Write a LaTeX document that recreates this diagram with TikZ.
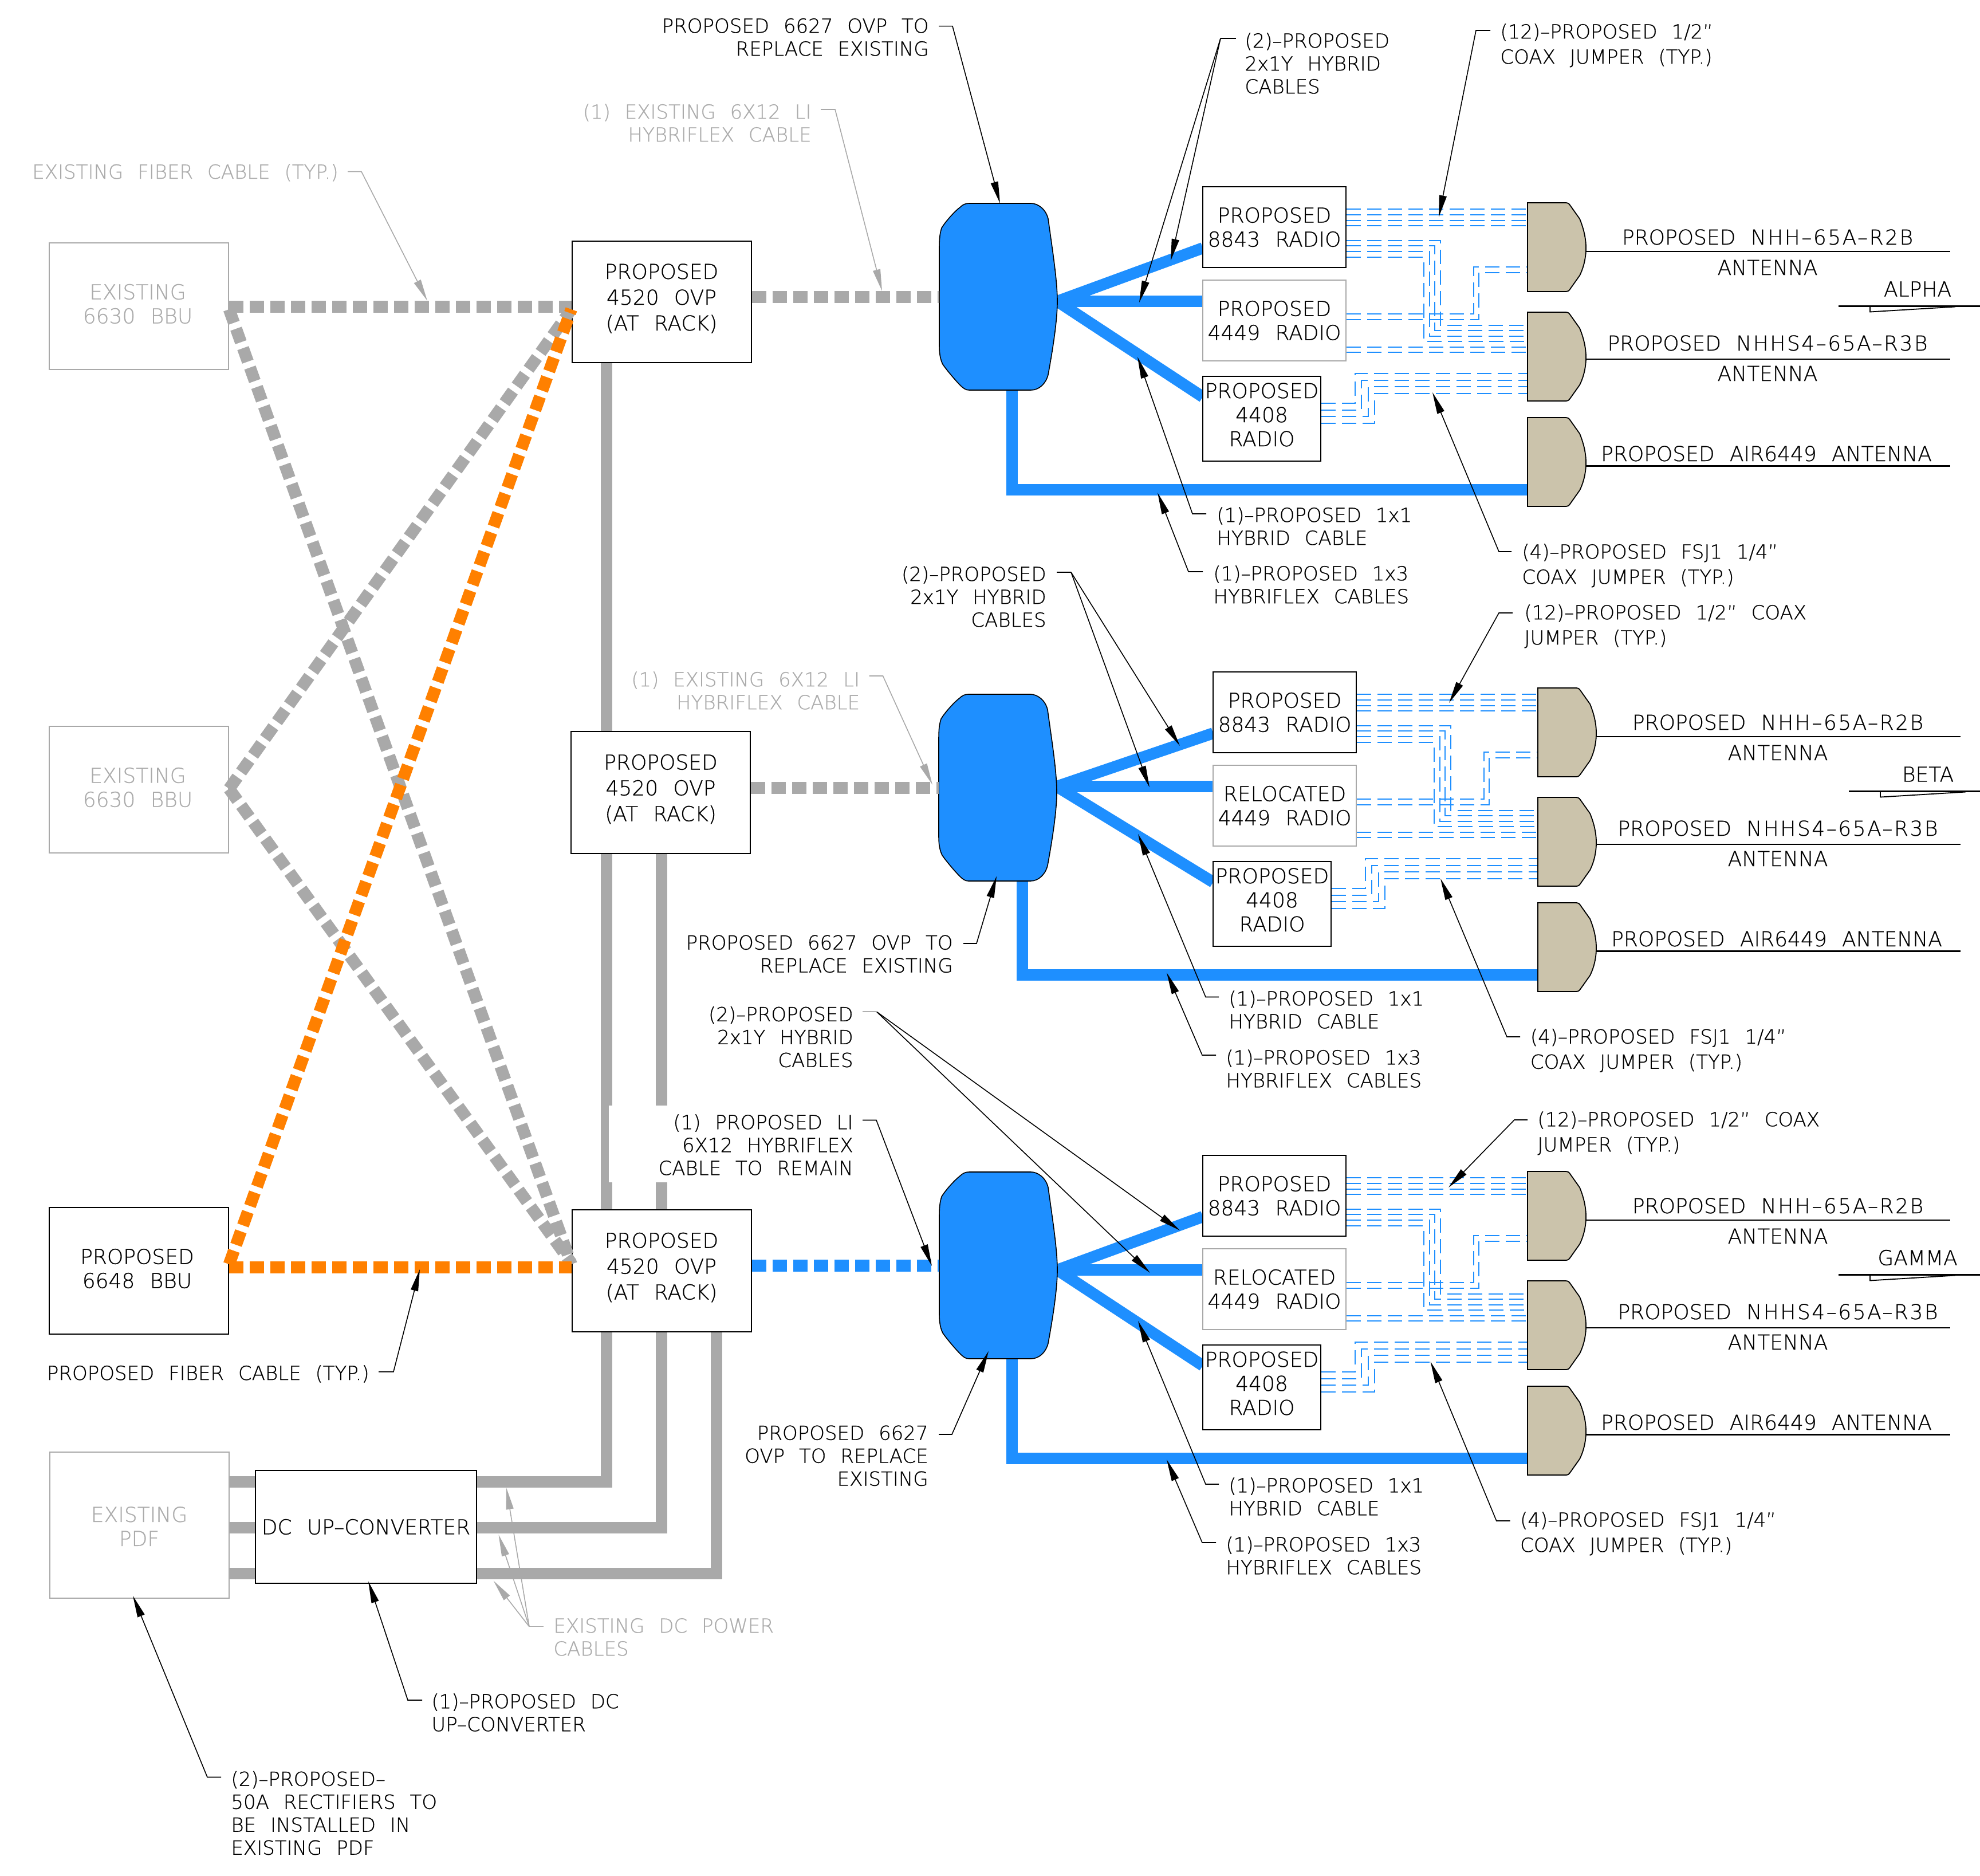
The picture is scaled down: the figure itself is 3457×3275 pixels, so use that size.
\documentclass[tikz,border=0pt]{standalone}
\usepackage{fontspec}
\usetikzlibrary{arrows.meta}
\newfontfamily\cadfont[WordSpace=2.3,FakeBold=0.6]{DejaVu Sans ExtraLight}
\newfontfamily\cadwide[LetterSpace=7,WordSpace=2.3,FakeBold=0.6]{DejaVu Sans ExtraLight}
\definecolor{cableblue}{HTML}{1E8FFF}
\definecolor{cablegrey}{HTML}{A9A9A9}
\definecolor{fibreorange}{HTML}{FF8000}
\definecolor{anttan}{HTML}{CBC3AB}
\definecolor{oldtext}{HTML}{ABABAB}

\tikzset{
  newbox/.style={draw=black,line width=1pt,fill=white,inner sep=0pt,align=center,
    font=\cadfont\fontsize{18}{21}\selectfont},
  oldbox/.style={newbox,draw=cablegrey,text=oldtext},
  reusebox/.style={newbox,draw=cablegrey},
  boxlabel/.style={inner sep=0pt,align=center,font=\cadfont\fontsize{18}{21}\selectfont},
  notetxt/.style={inner sep=0pt,font=\cadfont\fontsize{17}{20}\selectfont,execute at begin node=\rule{0pt}{15pt}},
  oldtxt/.style={notetxt,text=oldtext},
  anttxt/.style={inner sep=0pt,anchor=base,font=\cadfont\fontsize{18}{20}\selectfont},
  leader/.style={line width=0.8pt,-{Triangle[length=19pt,width=6.5pt]}},
  oldleader/.style={leader,cablegrey},
  power/.style={cablegrey,line width=10pt},
  hyb/.style={cableblue,line width=10pt},
  fibre/.style={line width=10.5pt,dash pattern=on 12.5pt off 5.5pt},
  jumper/.style={cableblue,line width=1.1pt,dash pattern=on 12.5pt off 5.5pt},
  antenna/.style={draw=black,line width=0.9pt,fill=anttan},
  stubline/.style={line width=1.1pt},
}

% name, shift, blob shift, 4449 title, tag, antenna text shift
\newcommand{\sectorblock}[6]{%
\begin{scope}[shift={#2}]
  \coordinate (#1ant1) at (2667,433);
  \coordinate (#1ant2) at (2667,622);
  \coordinate (#1ant3) at (2667,855);
  \begin{scope}[shift={#3}]
    \coordinate (#1mouth) at (1846,518);
    \coordinate (#1port) at (1640,518);
  \end{scope}
  % hybrid cables
  \coordinate (#1drop) at (1767,650);
  \coordinate (#1end1) at (2100,433);
  \coordinate (#1end2) at (2100,526);
  \coordinate (#1end3) at (2100,693);
  \draw[hyb] (#1drop) |- (#1ant3);
  \draw[hyb] (#1mouth |- 0,526) -- (#1end1);
  \draw[hyb] (#1mouth |- 0,526) -- (#1end2);
  \draw[hyb] (#1mouth |- 0,526) -- (#1end3);
  \node[newbox,minimum width=125pt,minimum height=70.5pt] (#1rad1) at (2225,396.5) {PROPOSED\\8843 RADIO};
  \node[reusebox,minimum width=125pt,minimum height=70.5pt] (#1rad2) at (2225,559.5) {#4\\4449 RADIO};
  \node[newbox,minimum width=103pt,minimum height=74pt,
    label={[boxlabel,yshift=3.5pt]center:PROPOSED\\4408\\RADIO}] (#1rad3) at (2203,731) {};
  \begin{scope}[shift={#3}]
    \draw[fill=cableblue,line width=0.8pt]
      (1692,355) -- (1800,355) .. controls (1812,355) and (1826,365) .. (1830,382)
      .. controls (1838,440) and (1846,490) .. (1846,526)
      .. controls (1846,560) and (1838,610) .. (1830,654)
      .. controls (1826,670) and (1814,681) .. (1800,681) -- (1692,681)
      .. controls (1686,681) and (1682,678) .. (1676,672)
      .. controls (1668,664) and (1652,645) .. (1646,636)
      .. controls (1642,628) and (1640,618) .. (1640,604) -- (1640,434)
      .. controls (1640,415) and (1641,408) .. (1644,398)
      .. controls (1652,385) and (1668,368) .. (1676,362)
      .. controls (1681,357) and (1686,355) .. (1692,355) -- cycle;
  \end{scope}
  % coax jumpers
  \foreach \ya in {365,375,385,394}
    \draw[jumper] (#1rad1.east |- 0,\ya) -- (#1ant1 |- 0,\ya);
  \foreach \ya/\xb/\yb in {420/2515/568,429/2505/577,439/2496/587,449/2486/596}
    \draw[jumper] (#1rad1.east |- 0,\ya) -| (\xb,\yb) -- (#1ant2 |- 0,\yb);
  \foreach \ya/\xb/\yb in {548/2573/466,558/2582/476}
    \draw[jumper] (#1rad2.east |- 0,\ya) -| (\xb,\yb) -- (#1ant1 |- 0,\yb);
  \foreach \ya in {606,615}
    \draw[jumper] (#1rad2.east |- 0,\ya) -- (#1ant2 |- 0,\ya);
  \foreach \ya/\xb/\yb in {704/2366/652,716/2377/664,727/2389/675,739/2400/687}
    \draw[jumper] (#1rad3.east |- 0,\ya) -| (\xb,\yb) -- (#1ant2 |- 0,\yb);
  % antennas
  \foreach \ty/\ly in {354/439,545/627,729/813.5} {
    \draw[stubline] (2769,\ly) -- (3405,\ly);
    \begin{scope}[shift={(0,\ty)}]
      \draw[antenna] (2667,0) -- (2733,0) .. controls (2737,0) and (2739,1) .. (2741,4)
        -- (2758,28) .. controls (2765,45) and (2769,62) .. (2769,79)
        .. controls (2769,96) and (2765,113) .. (2758,127) -- (2741,151)
        .. controls (2739,154) and (2737,155) .. (2733,155) -- (2667,155) -- cycle;
    \end{scope}
  }
  \node[anttxt] (#1txt1) at (3086+#6,427) {PROPOSED {\cadwide NHH–65A–R2B}};
  \node[anttxt] (#1txt2) at (3086+#6,480) {ANTENNA};
  \node[anttxt] (#1txt3) at (3086+#6,612) {PROPOSED {\cadwide NHHS4–65A–R3B}};
  \node[anttxt] (#1txt4) at (3086+#6,665) {ANTENNA};
  \node[anttxt] (#1txt5) at (3084,805) {PROPOSED AIR6449 ANTENNA};
  \node[anttxt] (#1tag) at (3348,517.6) {#5};
  \draw[stubline] (3210,534.4) -- (3470,534.4);
  \draw[line width=0.9pt] (3265,534.4) -- (3265,544.5) -- (3414,535.5);
\end{scope}}

\begin{document}
\begin{tikzpicture}[x=0.5pt,y=-0.5pt]
\useasboundingbox (0,0) rectangle (3457,3275);

% rack side boxes
\node[oldbox,minimum width=156.5pt,minimum height=110.5pt,
  label={[boxlabel,text=oldtext,xshift=-1pt,yshift=2pt]center:EXISTING\\6630 BBU}] (bbu1) at (242.5,534.5) {};
\node[oldbox,minimum width=156.5pt,minimum height=110.5pt,
  label={[boxlabel,text=oldtext,xshift=-1pt,yshift=2pt]center:EXISTING\\6630 BBU}] (bbu2) at (242.5,1378.5) {};
\node[newbox,minimum width=156.5pt,minimum height=110.5pt,
  label={[boxlabel,xshift=-1.5pt,yshift=2pt]center:PROPOSED\\6648 BBU}] (bbu3) at (242.5,2218.5) {};
\node[newbox,minimum width=156.5pt,minimum height=106pt,
  label={[boxlabel,yshift=3pt]center:PROPOSED\\[1.5pt]4520 OVP\\[1.5pt](AT RACK)}] (ovp1) at (1155,527) {};
\node[newbox,minimum width=156.5pt,minimum height=106.5pt,
  label={[boxlabel,yshift=3pt]center:PROPOSED\\[1.5pt]4520 OVP\\[1.5pt](AT RACK)}] (ovp2) at (1153.5,1383.5) {};
\node[newbox,minimum width=156.5pt,minimum height=106.5pt,
  label={[boxlabel,yshift=3pt]center:PROPOSED\\[1.5pt]4520 OVP\\[1.5pt](AT RACK)}] (ovp3) at (1155,2218.5) {};
\node[oldbox,minimum width=156.5pt,minimum height=127.5pt,
  label={[boxlabel,text=oldtext,yshift=-1pt]center:EXISTING\\PDF}] (pdf) at (243,2662.5) {};
\node[newbox,minimum width=193pt,minimum height=98.5pt] (dc) at (639,2665.5) {DC UP–CONVERTER};

% dc power
\draw[power] (ovp1.south -| 1059,0) -- (ovp2.north -| 1059,0);
\draw[power] (ovp2.south -| 1059,0) -- (ovp3.north -| 1059,0);
\draw[power] (ovp2.south -| 1155,0) -- (ovp3.north -| 1155,0);
\fill[white] (1063,1930) rectangle (1200,2064);
\draw[power] (ovp3.south -| 1059,0) |- (dc.east |- 0,2587);
\draw[power] (ovp3.south -| 1155,0) |- (dc.east |- 0,2667);
\draw[power] (ovp3.south -| 1251,0) |- (dc.east |- 0,2747);
\foreach \yp in {2587,2667,2747}
  \draw[power] (pdf.east |- 0,\yp) -- (dc.west |- 0,\yp);

% sectors
\sectorblock{a}{(0,0)}{(0,0)}{PROPOSED}{ALPHA}{0}
\sectorblock{b}{(18,847)}{(-19,10)}{RELOCATED}{BETA}{0}
\sectorblock{c}{(0,1691)}{(0,0)}{RELOCATED}{GAMMA}{18}

% fiber
\draw[fibre,cablegrey] (bbu1.east |- 0,535) -- (ovp1.west |- 0,535);
\draw[fibre,cablegrey] (bbu1.east |- 0,540) -- (ovp3.west |- 0,2207);
\draw[fibre,cablegrey] (bbu2.east |- 0,1377) -- (ovp1.west |- 0,540);
\draw[fibre,cablegrey] (bbu2.east |- 0,1377) -- (ovp3.west |- 0,2205);
\draw[fibre,fibreorange] (bbu3.east |- 0,2207) -- (ovp1.west |- 0,540);
\draw[fibre,fibreorange] (bbu3.east |- 0,2212.5) -- (ovp3.west |- 0,2212.5);
\draw[fibre,cablegrey] (ovp1.east |- aport) -- (aport);
\draw[fibre,cablegrey] (ovp2.east |- bport) -- (bport);
\draw[fibre,cableblue] (ovp3.east |- cport) -- (cport);

% alpha notes
\node[notetxt,anchor=north east,align=right] (an1) at (1622,31.6) {PROPOSED 6627 OVP TO\\REPLACE EXISTING};
\coordinate (at1) at (1746,355);
\draw[leader] ([shift={(17,14)}]an1.north east) -- ++(24,0) -- (at1);
\node[notetxt,anchor=north west,align=left] (an2) at (2173,57) {(2)–PROPOSED\\2x1Y HYBRID\\CABLES};
\coordinate (at2) at (2044,455);
\coordinate (at3) at (1989,528);
\draw[line width=0.8pt] ([shift={(-15,10)}]an2.north west) -- ++(-27,0) coordinate (ac2);
\draw[leader] (ac2) -- (at2);
\draw[leader] (ac2) -- (at3);
\node[notetxt,anchor=north west,align=left] (an3) at (2619,41) {(12)–PROPOSED 1/2”\\[2pt]COAX JUMPER (TYP.)};
\coordinate (at4) at (2512,379);
\draw[leader] ([shift={(-17,12)}]an3.north west) -- ++(-25,0) -- (at4);
\node[notetxt,anchor=north west,align=left] (an4) at (2124,885) {(1)–PROPOSED 1x1\\HYBRID CABLE};
\coordinate (at5) at (1986,623);
\draw[leader] ([shift={(-18,12)}]an4.north west) -- ++(-24,0) -- (at5);
\node[notetxt,anchor=north west,align=left] (an5) at (2118,987) {(1)–PROPOSED 1x3\\HYBRIFLEX CABLES};
\coordinate (at6) at (2021,860);
\draw[leader] ([shift={(-18,11)}]an5.north west) -- ++(-25,0) -- (at6);
\node[notetxt,anchor=north west,align=left] (an6) at (2657,949) {(4)–PROPOSED FSJ1 1/4”\\[2pt]COAX JUMPER (TYP.)};
\coordinate (at7) at (2501,685);
\draw[leader] ([shift={(-18,14)}]an6.north west) -- ++(-22,0) -- (at7);
\node[oldtxt,anchor=north east,align=right] (an7) at (1417,181) {(1) EXISTING 6X12 LI\\HYBRIFLEX CABLE};
\coordinate (at8) at (1540,508);
\draw[oldleader] ([shift={(16,10)}]an7.north east) -- ++(25,0) -- (at8);
\node[oldtxt,anchor=north east,align=right] (an8) at (591,281.6) {EXISTING FIBER CABLE (TYP.)};
\coordinate (at9) at (746,525);
\draw[oldleader] ([shift={(16,18)}]an8.north east) -- ++(24,0) -- (at9);

% beta notes
\node[notetxt,anchor=north east,align=right] (bn1) at (1827,988) {(2)–PROPOSED\\2x1Y HYBRID\\CABLES};
\coordinate (bt1) at (2060,1302);
\coordinate (bt2) at (2007,1374.5);
\draw[line width=0.8pt] ([shift={(18,11)}]bn1.north east) -- ++(25,0) coordinate (bc1);
\draw[leader] (bc1) -- (bt1);
\draw[leader] (bc1) -- (bt2);
\node[notetxt,anchor=north west,align=left] (bn2) at (2661,1055) {(12)–PROPOSED 1/2” COAX\\[2pt]JUMPER (TYP.)};
\coordinate (bt3) at (2530,1227);
\draw[leader] ([shift={(-20,15)}]bn2.north west) -- ++(-24,0) -- (bt3);
\node[oldtxt,anchor=north east,align=right] (bn3) at (1501.5,1172) {(1) EXISTING 6X12 LI\\HYBRIFLEX CABLE};
\coordinate (bt4) at (1628,1370);
\draw[oldleader] ([shift={(16,8)}]bn3.north east) -- ++(24,0) -- (bt4);
\node[notetxt,anchor=north east,align=right] (bn4) at (1664,1632) {PROPOSED 6627 OVP TO\\REPLACE EXISTING};
\coordinate (bt5) at (1740,1529.5);
\draw[leader] ([shift={(18,15)}]bn4.north east) -- ++(23,0) -- (bt5);
\node[notetxt,anchor=north west,align=left] (bn5) at (2145,1729) {(1)–PROPOSED 1x1\\HYBRID CABLE};
\coordinate (bt6) at (1987,1456);
\draw[leader] ([shift={(-17,11.5)}]bn5.north west) -- ++(-23,0) -- (bt6);
\node[notetxt,anchor=north west,align=left] (bn6) at (2140,1832) {(1)–PROPOSED 1x3\\HYBRIFLEX CABLES};
\coordinate (bt7) at (2037,1698);
\draw[leader] ([shift={(-17,10)}]bn6.north west) -- ++(-24,0) -- (bt7);
\node[notetxt,anchor=north west,align=left] (bn7) at (2671.5,1795.5) {(4)–PROPOSED FSJ1 1/4”\\[2pt]COAX JUMPER (TYP.)};
\coordinate (bt8) at (2515,1533.6);
\draw[leader] ([shift={(-17.5,14.5)}]bn7.north west) -- ++(-23,0) -- (bt8);

% gamma notes
\node[notetxt,anchor=north east,align=right] (cn1) at (1490,1756.6) {(2)–PROPOSED\\2x1Y HYBRID\\CABLES};
\coordinate (ct1) at (2060,2148);
\coordinate (ct2) at (2008,2222);
\draw[line width=0.8pt] ([shift={(16,10)}]cn1.north east) -- ++(25,0) coordinate (cc1);
\draw[leader] (cc1) -- (ct1);
\draw[leader] (cc1) -- (ct2);
\node[notetxt,anchor=north east,align=right] (cn2) at (1490,1945) {(1) PROPOSED LI\\6X12 HYBRIFLEX\\CABLE TO REMAIN};
\coordinate (ct3) at (1627,2210);
\draw[leader] ([shift={(16,10.5)}]cn2.north east) -- ++(24,0) -- (ct3);
\node[notetxt,anchor=north east,align=right] (cn3) at (1621,2488) {PROPOSED 6627\\OVP TO REPLACE\\EXISTING};
\coordinate (ct4) at (1726,2358.7);
\draw[leader] ([shift={(18,16)}]cn3.north east) -- ++(23,0) -- (ct4);
\node[notetxt,anchor=north west,align=left] (cn4) at (2145,2579) {(1)–PROPOSED 1x1\\HYBRID CABLE};
\coordinate (ct5) at (1987,2306);
\draw[leader] ([shift={(-17,12)}]cn4.north west) -- ++(-23,0) -- (ct5);
\node[notetxt,anchor=north west,align=left] (cn5) at (2140,2682) {(1)–PROPOSED 1x3\\HYBRIFLEX CABLES};
\coordinate (ct6) at (2037,2548);
\draw[leader] ([shift={(-17,11)}]cn5.north west) -- ++(-24,0) -- (ct6);
\node[notetxt,anchor=north west,align=left] (cn6) at (2684,1940) {(12)–PROPOSED 1/2” COAX\\[2pt]JUMPER (TYP.)};
\coordinate (ct7) at (2529,2073);
\draw[leader] ([shift={(-17,15)}]cn6.north west) -- ++(-23,0) -- (ct7);
\node[notetxt,anchor=north west,align=left] (cn7) at (2653.7,2639) {(4)–PROPOSED FSJ1 1/4”\\[2pt]COAX JUMPER (TYP.)};
\coordinate (ct8) at (2497.6,2377);
\draw[leader] ([shift={(-17,16)}]cn7.north west) -- ++(-24,0) -- (ct8);

% rack side notes
\node[notetxt,anchor=north east,align=right] (fn1) at (645,2378.7) {PROPOSED FIBER CABLE (TYP.)};
\coordinate (ft1) at (733,2216);
\draw[leader] ([shift={(16,16)}]fn1.north east) -- ++(26,0) -- (ft1);
\node[oldtxt,anchor=north west,align=left] (pn1) at (966,2824.6) {EXISTING DC POWER\\CABLES};
\coordinate (pt1) at (884,2597);
\coordinate (pt2) at (870.5,2679);
\coordinate (pt3) at (861.6,2759.5);
\draw[cablegrey,line width=0.8pt] ([shift={(-17,15)}]pn1.north west) -- ++(-25,0) coordinate (pc1);
\draw[oldleader] (pc1) -- (pt1);
\draw[oldleader] (pc1) -- (pt2);
\draw[oldleader] (pc1) -- (pt3);
\node[notetxt,anchor=north west,align=left] (pn2) at (753,2956) {(1)–PROPOSED DC\\UP–CONVERTER};
\coordinate (pt4) at (643,2760.5);
\draw[leader] ([shift={(-16,12)}]pn2.north west) -- ++(-25,0) -- (pt4);
\node[notetxt,anchor=north west,align=left] (pn3) at (403,3091.5) {(2)–PROPOSED–\\50A RECTIFIERS TO\\BE INSTALLED IN\\EXISTING PDF};
\coordinate (pt5) at (232,2785.8);
\draw[leader] ([shift={(-17,11)}]pn3.north west) -- ++(-24,0) -- (pt5);
\end{tikzpicture}
\end{document}
